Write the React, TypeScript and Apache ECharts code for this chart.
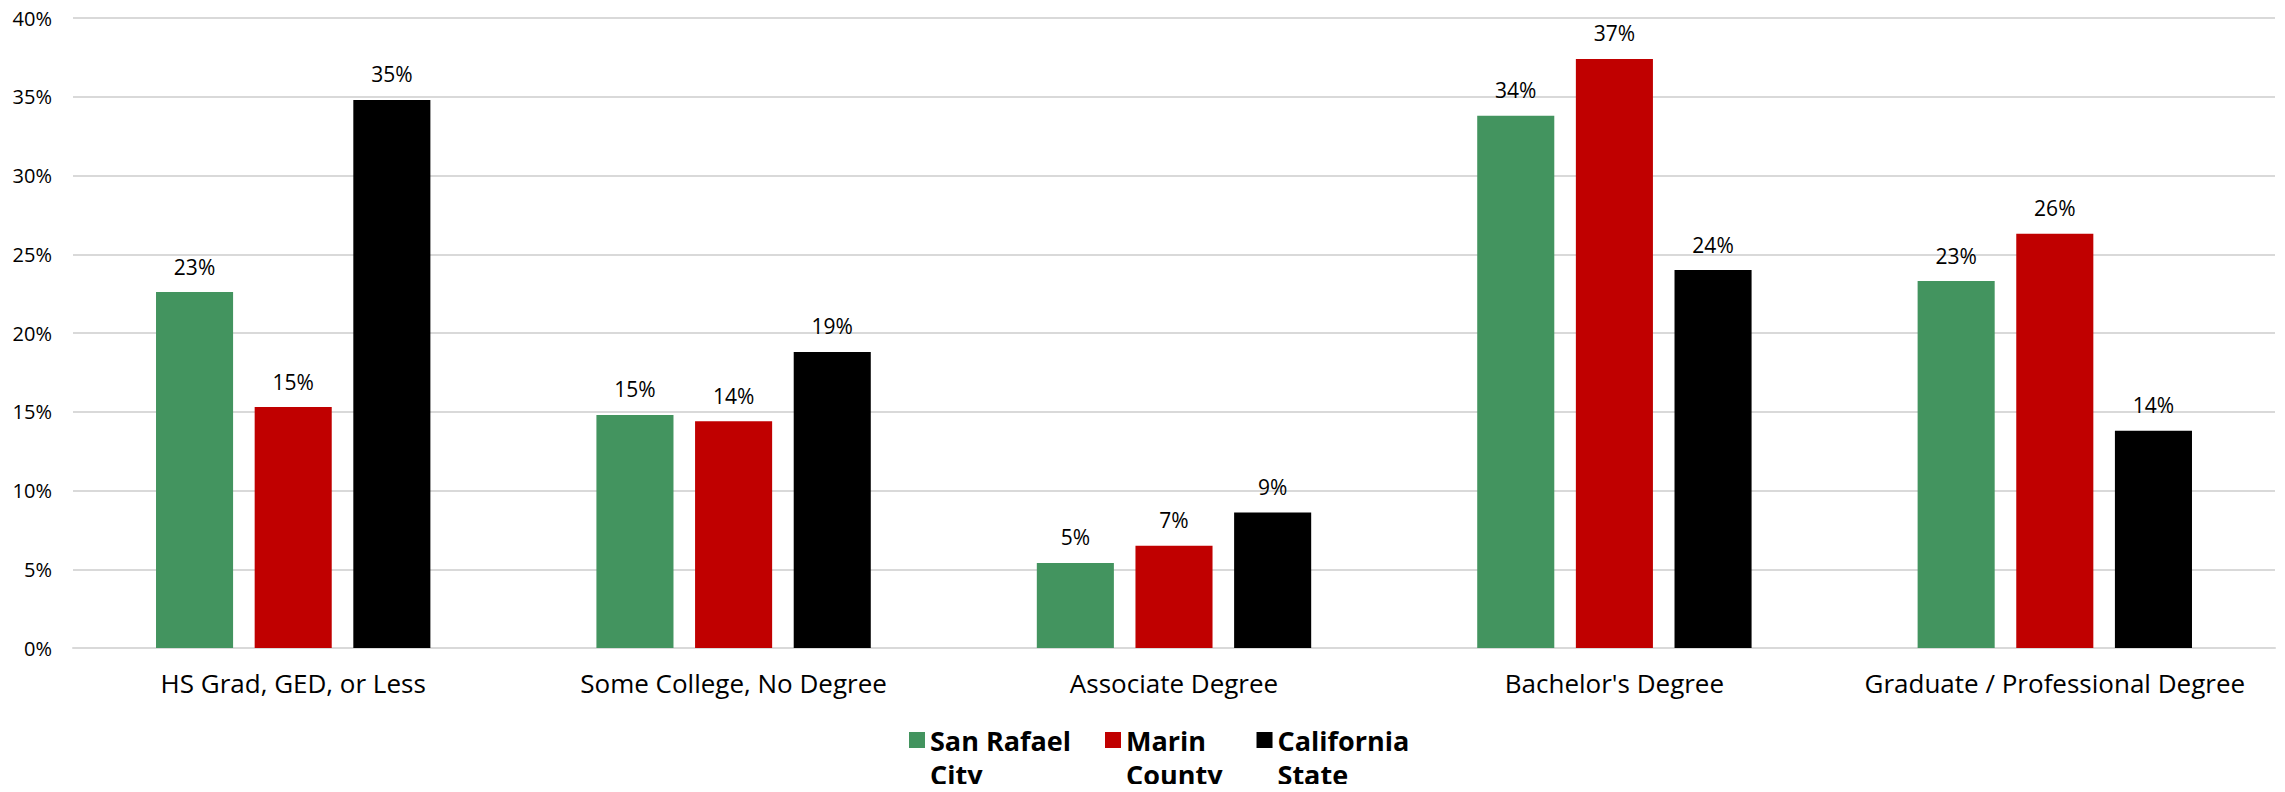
import React, { useEffect, useRef } from "react";
import * as echarts from "echarts";

const categories = [
  "HS Grad, GED, or Less",
  "Some College, No Degree",
  "Associate Degree",
  "Bachelor's Degree",
  "Graduate / Professional Degree",
];
const seriesNames = ["San Rafael\nCity", "Marin\nCounty", "California\nState"];
const sanRafael = [22.6, 14.8, 5.4, 33.8, 23.3];
const marin = [15.3, 14.4, 6.5, 37.4, 26.3];
const california = [34.8, 18.8, 8.6, 24.0, 13.8];
const colors = ["#43945F", "#C00000", "#000000"];
const yTicks = { min: 0, max: 40, interval: 5 };

const FONT = "'Open Sans', Lato, sans-serif";

export default function App() {
  const ref = useRef<HTMLDivElement>(null);
  useEffect(() => {
    if (!ref.current) return;
    const chart = echarts.init(ref.current, undefined, { renderer: "svg" });
    const values = [sanRafael, marin, california];
    chart.setOption({
      animation: false,
      textStyle: { fontFamily: FONT },
      grid: { left: 73, right: 10, top: 18, bottom: 144, containLabel: false },
      legend: {
        top: 684,
        left: 904,
        icon: "rect",
        itemWidth: 16,
        itemHeight: 16,
        itemGap: 34,
        formatter: (name: string) => "\n" + name,
        textStyle: {
          fontFamily: FONT,
          fontWeight: "bold",
          fontSize: 27,
          color: "#000",
          lineHeight: 34,
        },
        data: seriesNames,
      },
      xAxis: {
        type: "category",
        data: categories,
        axisLine: { lineStyle: { color: "#d9d9d9", width: 2 } },
        axisTick: { show: false },
        axisLabel: {
          color: "#000",
          fontSize: 26,
          margin: 22,
          interval: 0,
          fontFamily: FONT,
        },
      },
      yAxis: {
        type: "value",
        min: yTicks.min,
        max: yTicks.max,
        interval: yTicks.interval,
        axisLine: { show: false },
        axisTick: { show: false },
        splitLine: { lineStyle: { color: "#d9d9d9", width: 2 } },
        axisLabel: {
          color: "#000",
          fontSize: 20,
          lineHeight: 20,
          margin: 21,
          fontFamily: FONT,
          formatter: (v: number) => v + "%",
        },
      },
      series: seriesNames.map((name, i) => ({
        name,
        type: "bar",
        data: values[i],
        barWidth: "17.5%",
        barGap: "28%",
        itemStyle: { color: colors[i] },
        label: {
          show: true,
          position: "top",
          distance: 15,
          color: "#000",
          fontSize: 21,
          fontFamily: FONT,
          formatter: (p: any) => Math.round(p.value) + "%",
        },
      })),
    });
    return () => chart.dispose();
  }, []);
  return <div ref={ref} style={{ width: 2285, height: 792, margin: -8 }} />;
}
